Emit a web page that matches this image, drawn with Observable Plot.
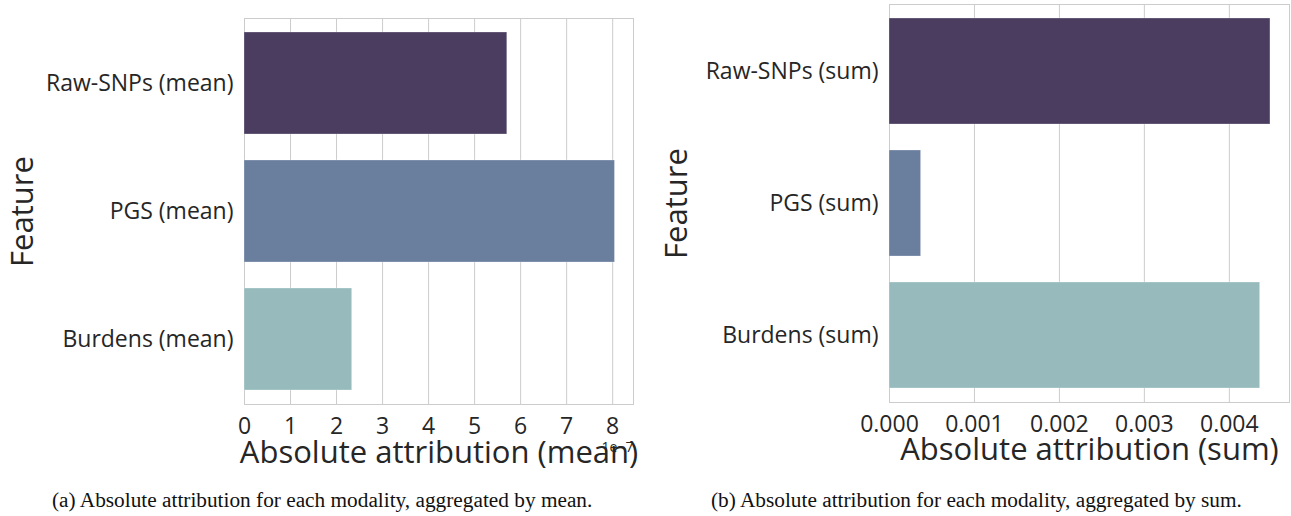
<!DOCTYPE html>
<html>
<head>
<meta charset="utf-8">
<script src="https://cdn.jsdelivr.net/npm/d3@7"></script>
<script src="https://cdn.jsdelivr.net/npm/@observablehq/plot@0.6"></script>
<style>
  html, body { margin: 0; padding: 0; background: #fff; }
  #page { position: relative; width: 1291px; height: 516px; overflow: hidden; }
  .panel { position: absolute; top: 0; }
  .caption { position: absolute; top: 490px; font-family: "Liberation Serif", "Times New Roman", serif; font-size: 21.3px; line-height: 1; color: #111; white-space: nowrap; }
</style>
</head>
<body>
<div id="page">
  <div id="left" class="panel" style="left:0px"></div>
  <div id="right" class="panel" style="left:645px"></div>
  <div class="caption" style="left:52px">(a) Absolute attribution for each modality, aggregated by mean.</div>
  <div class="caption" style="left:711px">(b) Absolute attribution for each modality, aggregated by sum.</div>
</div>
<script>
// Modalities and their absolute attribution, aggregated two ways
const features = ["Raw-SNPs", "PGS", "Burdens"];
const meanLabels = ["Raw-SNPs (mean)", "PGS (mean)", "Burdens (mean)"];
const sumLabels = ["Raw-SNPs (sum)", "PGS (sum)", "Burdens (sum)"];
const meanValues = [5.71e-7, 8.05e-7, 2.34e-7];
const sumValues = [0.004484, 0.000372, 0.004363];
const meanTicks = [0, 1, 2, 3, 4, 5, 6, 7, 8]; // in units of 1e-7
const meanTickScale = 1e-7;
const sumTicks = [0.000, 0.001, 0.002, 0.003, 0.004];
const palette = ["#4a3d5f", "#6a7e9e", "#97bbbd"];

const textColor = "#262626";
const gridColor = "#cccccc";
const font = "'Open Sans', 'Noto Sans', sans-serif";

function panel({labels, values, ticks, tickFormat, xLabel, width, height,
                marginLeft, marginRight, marginTop, marginBottom,
                featureDx, xLabelDy, offsetLabel}) {
  const rows = labels.map((label, i) => ({label, value: values[i]}));
  const xMax = d3.max(values) * 1.05;
  const marks = [
    Plot.gridX(ticks, {stroke: gridColor, strokeOpacity: 1, strokeWidth: 1}),
    Plot.frame({stroke: gridColor, strokeWidth: 1}),
    Plot.barX(rows, {x: "value", y: "label", fill: "label", stroke: "#ffffff", strokeOpacity: 0.35, strokeWidth: 0.8}),
    Plot.axisX(ticks, {tickSize: 0, tickPadding: 13, tickFormat, fontSize: 23, fill: textColor, label: null}),
    Plot.axisY({tickSize: 0, tickPadding: 11, fontSize: 23, fill: textColor, label: null}),
    Plot.text([xLabel], {frameAnchor: "bottom", textAnchor: "middle", lineAnchor: "middle", dy: xLabelDy, fontSize: 31, fill: textColor}),
    Plot.text(["Feature"], {frameAnchor: "left", rotate: -90, textAnchor: "middle", lineAnchor: "middle", dx: featureDx, fontSize: 31, fill: textColor})
  ];
  if (offsetLabel) {
    marks.push(Plot.text([offsetLabel], {frameAnchor: "bottom-right", textAnchor: "end", lineAnchor: "middle", dx: 0, dy: 43, fontSize: 14, fill: textColor}));
  }
  return Plot.plot({
    width, height, marginLeft, marginRight, marginTop, marginBottom,
    style: {fontFamily: font, color: textColor, background: "transparent", overflow: "visible"},
    x: {domain: [0, xMax]},
    y: {domain: labels, paddingInner: 0.2, paddingOuter: 0.1},
    color: {domain: labels, range: palette},
    marks
  });
}

document.getElementById("left").append(panel({
  labels: meanLabels,
  values: meanValues,
  ticks: meanTicks.map(t => t * meanTickScale),
  tickFormat: d => d3.format("d")(Math.round(d / meanTickScale)),
  xLabel: "Absolute attribution (mean)",
  offsetLabel: "1e\u22127",
  width: 645, height: 480,
  marginLeft: 244, marginRight: 12, marginTop: 18, marginBottom: 76,
  featureDx: -221, xLabelDy: 49
}));

document.getElementById("right").append(panel({
  labels: sumLabels,
  values: sumValues,
  ticks: sumTicks,
  tickFormat: d3.format(".3f"),
  xLabel: "Absolute attribution (sum)",
  width: 646, height: 480,
  marginLeft: 244, marginRight: 2, marginTop: 4, marginBottom: 78,
  featureDx: -212, xLabelDy: 48
}));
</script>
</body>
</html>
